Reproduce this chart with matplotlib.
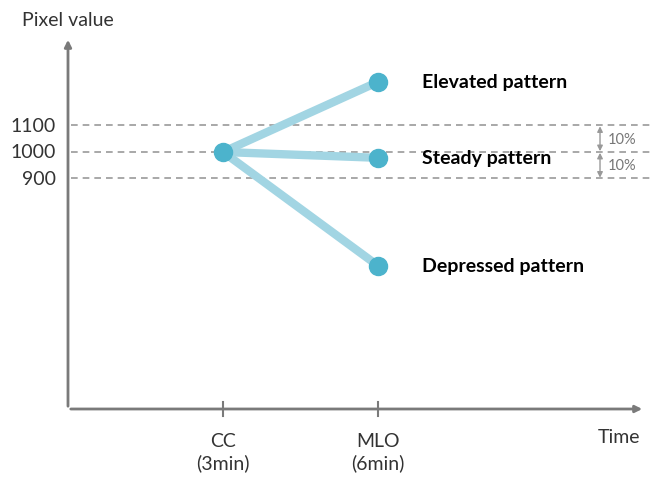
import matplotlib
matplotlib.use('Agg')
import matplotlib.pyplot as plt

plt.rcParams['font.family'] = ['Lato', 'DejaVu Sans']

# data
times = ['CC\n(3min)', 'MLO\n(6min)']
start_value = 1000
patterns = ['Elevated pattern', 'Steady pattern', 'Depressed pattern']
end_values = [1265, 978, 570]
ref_levels = [1100, 1000, 900]
ref_labels = ['1100', '1000', '900']

axis_col = '#7a7a7a'
line_col = '#a2d5e3'
dot_col = '#4cb3cc'

fig = plt.figure(figsize=(6.53, 4.81), dpi=100)
W, H = 653, 481
ax = fig.add_axes([68 / W, 1 - 410 / H, (645 - 68) / W, (410 - 38) / H])
ax.set_xlim(0, 3.72)
ax.set_ylim(30, 1434)
for s in ax.spines.values():
    s.set_visible(False)
ax.set_xticks([])
ax.set_yticks([])

# axes arrows
ax.annotate('', xy=(3.72, 30), xytext=(0, 30),
            arrowprops=dict(arrowstyle='-|>', color=axis_col, lw=2, mutation_scale=10),
            annotation_clip=False)
ax.annotate('', xy=(0, 1434), xytext=(0, 30),
            arrowprops=dict(arrowstyle='-|>', color=axis_col, lw=2, mutation_scale=10),
            annotation_clip=False)

# x ticks
for i, lab in enumerate(times):
    x = i + 1
    ax.plot([x, x], [5, 55], color=axis_col, lw=1.5, clip_on=False)
    ax.text(x, -130, lab, ha='center', va='center', fontsize=14, color='#333333',
            linespacing=1.25, clip_on=False)
ax.text(3.55, -72, 'Time', ha='center', va='center', fontsize=14, color='#333333',
        clip_on=False)
ax.text(0.0, 1500, 'Pixel value', ha='center', va='center', fontsize=14,
        color='#333333', clip_on=False)

# reference levels
for lvl, lab in zip(ref_levels, ref_labels):
    ax.plot([0.02, 3.78], [lvl, lvl], color='#999999', lw=1.2, ls=(0, (4, 3)),
            clip_on=False, zorder=1)
    ax.text(-0.08, lvl, lab, ha='right', va='center', fontsize=14, color='#333333')

# 10% arrows
for a, b in [(ref_levels[0], ref_levels[1]), (ref_levels[1], ref_levels[2])]:
    ax.annotate('', xy=(3.43, a - 3), xytext=(3.43, b + 3),
                arrowprops=dict(arrowstyle='<|-|>', color='#999999', lw=1,
                                mutation_scale=8, shrinkA=0, shrinkB=0))
    ax.text(3.48, (a + b) / 2, '10%', ha='left', va='center', fontsize=10.5,
            color='#777777')

# pattern lines
for lab, v in zip(patterns, end_values):
    ax.plot([1, 2], [start_value, v], color=line_col, lw=6, solid_capstyle='butt',
            zorder=2)
    ax.plot([2], [v], 'o', color=dot_col, ms=13, zorder=3)
    ax.text(2.28, v, lab, ha='left', va='center', fontsize=14, fontweight='bold',
            color='black')
ax.plot([1], [start_value], 'o', color=dot_col, ms=13, zorder=3)

fig.savefig('out.png', dpi=100)
